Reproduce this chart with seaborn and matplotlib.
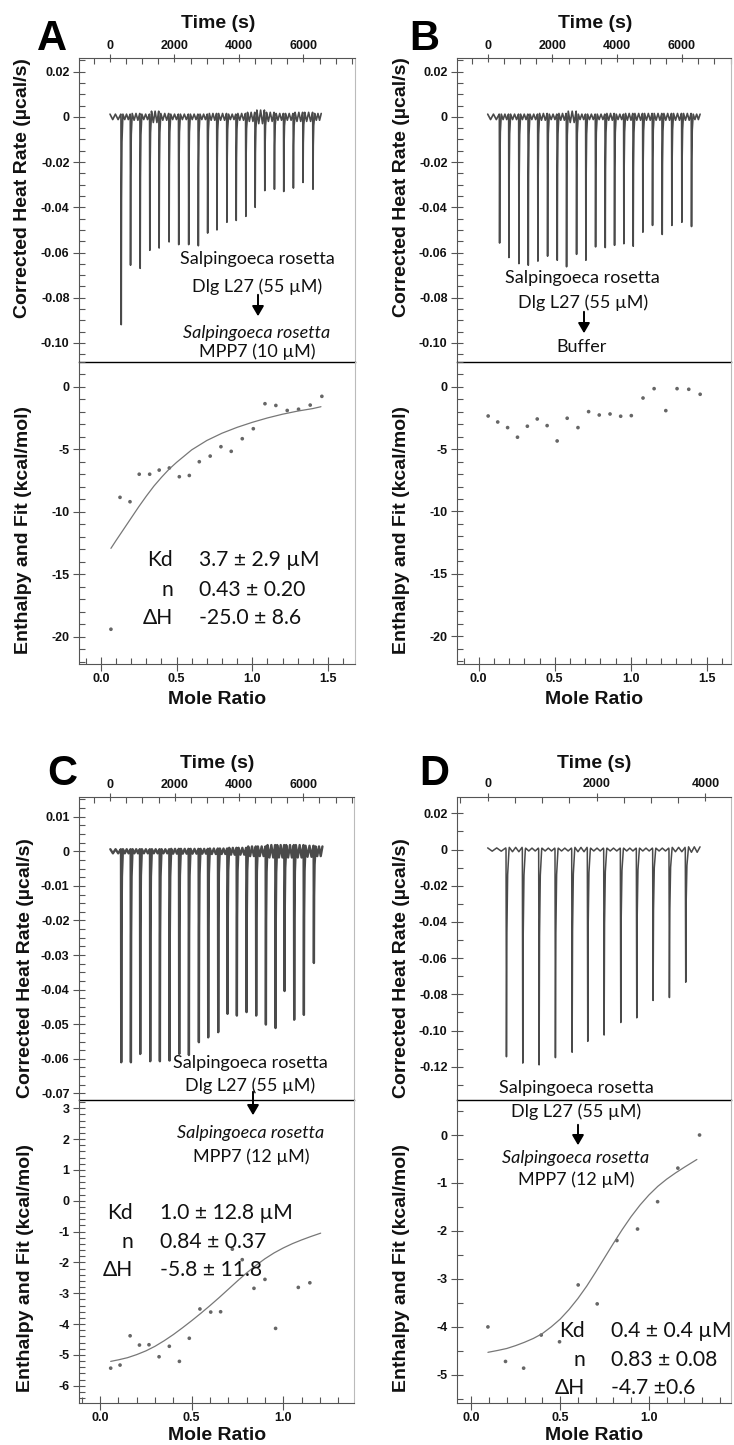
import numpy as np
import pandas as pd
import matplotlib
matplotlib.use('Agg')
import matplotlib.pyplot as plt
from matplotlib.ticker import MultipleLocator, FuncFormatter
import seaborn as sns

sns.set_style('ticks')
plt.rcParams['font.family'] = ['Liberation Sans', 'DejaVu Sans']
plt.rcParams['font.weight'] = 'bold'
plt.rcParams['axes.unicode_minus'] = False

W, H = 734, 1445

# ---------------- data ----------------
# A: Dlg L27 -> MPP7 (10 uM)
a_inj_t = [340, 629, 928, 1227, 1516, 1825, 2124, 2433, 2732, 3021, 3310,
           3619, 3907, 4206, 4495, 4794, 5093, 5382, 5681, 5980, 6289]
a_inj_dip = [-0.0919, -0.0656, -0.067, -0.059, -0.058, -0.0553, -0.0565, -0.0565,
             -0.057, -0.0514, -0.050, -0.0466, -0.0458, -0.044, -0.040, -0.0326,
             -0.032, -0.033, -0.0315, -0.029, -0.032]
a_noise = [0.0012, 0.0012, 0.0015, 0.0012, 0.0025, 0.0015, 0.0012, 0.0012, 0.0012, 0.0012, 0.0015,
           0.0015, 0.0012, 0.0015, 0.002, 0.003, 0.002, 0.0015, 0.0015, 0.002, 0.002, 0.0015]
a_t_end = 6557
a_mr = [0.066, 0.126, 0.192, 0.253, 0.322, 0.385, 0.452, 0.518, 0.584, 0.650, 0.722,
        0.793, 0.861, 0.934, 1.007, 1.084, 1.156, 1.231, 1.306, 1.383, 1.460]
a_dh = [-19.4, -8.85, -9.2, -7.0, -7.0, -6.67, -6.5, -7.2, -7.1, -6.0, -5.55,
        -4.8, -5.17, -4.16, -3.36, -1.36, -1.5, -1.9, -1.8, -1.47, -0.77]
a_fit_x = [0.066, 0.10, 0.15, 0.20, 0.25, 0.30, 0.35, 0.40, 0.45, 0.50, 0.55, 0.60,
           0.70, 0.80, 0.90, 1.00, 1.10, 1.20, 1.30, 1.40, 1.454]
a_fit_y = [-12.93, -12.3, -11.4, -10.5, -9.6, -8.75, -7.95, -7.25, -6.6, -6.05, -5.55, -5.05,
           -4.3, -3.72, -3.25, -2.85, -2.5, -2.2, -1.95, -1.75, -1.6]

# B: Dlg L27 -> buffer
b_inj_t = [360, 648, 957, 1245, 1543, 1842, 2140, 2428, 2737, 3025, 3324,
           3622, 3910, 4198, 4486, 4785, 5083, 5382, 5680, 5989, 6287]
b_inj_dip = [-0.0558, -0.0622, -0.0649, -0.0656, -0.0638, -0.0616, -0.0634, -0.0663,
             -0.0608, -0.0634, -0.0575, -0.0578, -0.0568, -0.0561, -0.0572, -0.051,
             -0.048, -0.052, -0.048, -0.0466, -0.0485]
b_noise = [0.0012, 0.0012, 0.0012, 0.0012, 0.0012, 0.0015, 0.0012, 0.0015, 0.0025, 0.0012, 0.0012,
           0.0012, 0.0015, 0.0012, 0.0015, 0.0015, 0.0015, 0.0015, 0.0015, 0.0015, 0.0015, 0.0012]
b_t_end = 6565
b_mr = [0.062, 0.125, 0.19, 0.255, 0.32, 0.385, 0.45, 0.516, 0.582, 0.653, 0.723,
        0.793, 0.864, 0.934, 1.004, 1.081, 1.154, 1.231, 1.305, 1.382, 1.457]
b_dh = [-2.35, -2.83, -3.28, -4.05, -3.17, -2.59, -3.12, -4.35, -2.53, -3.28, -2.0,
        -2.27, -2.19, -2.37, -2.32, -0.91, -0.16, -1.92, -0.16, -0.21, -0.61]

# C: Dlg L27 -> MPP7 (12 uM)
c_inj_t = [332, 632, 922, 1233, 1533, 1834, 2134, 2435, 2745, 3035, 3346,
           3636, 3926, 4227, 4527, 4828, 5128, 5408, 5708, 6009, 6320]
c_inj_dip = [-0.061, -0.061, -0.0586, -0.0607, -0.0607, -0.0605, -0.0586, -0.0589,
             -0.0552, -0.0538, -0.0523, -0.047, -0.0475, -0.0465, -0.0475, -0.0501,
             -0.0511, -0.0404, -0.0487, -0.0473, -0.0323]
c_noise = [0.0006, 0.0006, 0.0006, 0.0006, 0.0006, 0.0006, 0.0007, 0.0007, 0.0007, 0.0007, 0.0008,
           0.0008, 0.0010, 0.0010, 0.0014, 0.0014, 0.0018, 0.0018, 0.0018, 0.0018, 0.0016, 0.0014]
c_t_end = 6599
c_mr = [0.058, 0.109, 0.164, 0.215, 0.267, 0.322, 0.378, 0.433, 0.487, 0.545,
        0.604, 0.658, 0.722, 0.776, 0.84, 0.9, 0.958, 1.082, 1.145]
c_dh = [-5.43, -5.33, -4.38, -4.68, -4.67, -5.06, -4.72, -5.21, -4.46, -3.51,
        -3.61, -3.60, -1.57, -1.91, -2.84, -2.55, -4.14, -2.81, -2.66]
c_fit_x = [0.058, 0.10, 0.15, 0.20, 0.25, 0.30, 0.35, 0.40, 0.45, 0.50, 0.55, 0.60,
           0.65, 0.70, 0.75, 0.80, 0.85, 0.90, 0.95, 1.00, 1.05, 1.10, 1.15, 1.204]
c_fit_y = [-5.21, -5.16, -5.09, -4.99, -4.87, -4.72, -4.54, -4.34, -4.12, -3.89, -3.65, -3.40,
           -3.14, -2.87, -2.60, -2.34, -2.10, -1.88, -1.69, -1.53, -1.39, -1.27, -1.16, -1.05]

# D: Dlg L27 -> MPP7 (12 uM), shorter run
d_inj_t = [337, 637, 937, 1237, 1544, 1831, 2132, 2438, 2732, 3032, 3332, 3632]
d_inj_dip = [-0.1145, -0.118, -0.119, -0.115, -0.112, -0.106, -0.1025, -0.0956,
             -0.093, -0.0834, -0.0818, -0.0733]
d_noise = [0.0009, 0.0012, 0.0008, 0.0008, 0.0008, 0.0012, 0.0008, 0.0008, 0.0008,
           0.0008, 0.0008, 0.0012, 0.0015]
d_t_end = 3908
d_mr = [0.094, 0.193, 0.295, 0.394, 0.497, 0.602, 0.709, 0.82, 0.936, 1.049, 1.163, 1.285]
d_dh = [-4.0, -4.72, -4.86, -4.17, -4.31, -3.125, -3.52, -2.2, -1.96, -1.39, -0.69, 0.0]
d_fit_x = [0.094, 0.15, 0.20, 0.25, 0.30, 0.35, 0.40, 0.45, 0.50, 0.55, 0.60, 0.65,
           0.70, 0.75, 0.80, 0.85, 0.90, 0.95, 1.00, 1.05, 1.10, 1.15, 1.20, 1.27]
d_fit_y = [-4.53, -4.49, -4.45, -4.39, -4.32, -4.24, -4.14, -4.0, -3.84, -3.64, -3.41, -3.15,
           -2.86, -2.56, -2.26, -1.97, -1.70, -1.46, -1.25, -1.07, -0.92, -0.79, -0.67, -0.51]

fit_stats = {
    'A': ['3.7 ± 2.9 µM', '0.43 ± 0.20', '-25.0 ± 8.6'],
    'C': ['1.0 ± 12.8 µM', '0.84 ± 0.37', '-5.8 ± 11.8'],
    'D': ['0.4 ± 0.4 µM', '0.83 ± 0.08', '-4.7 ±0.6'],
}

LINE = '#4a4a4a'
DOT = '#666666'
SPINE = '#555555'


def build_trace(inj_t, inj_dip, noise, t_end):
    # baseline wiggle between injections, sharp dip at every injection
    t_pts, y_pts = [], []
    edges = [0] + list(inj_t) + [t_end]
    for g in range(len(edges) - 1):
        lo = edges[g] + (60 if g > 0 else 0)
        hi = edges[g + 1] - 5
        seg = np.linspace(lo, hi, 5)
        sign = np.where(np.arange(5) % 2 == 0, 1, -1)
        t_pts.extend(seg)
        y_pts.extend(noise[g] * sign)
        if g < len(inj_t):
            t0, d = inj_t[g], inj_dip[g]
            t_pts.extend([t0, t0 + 8, t0 + 16, t0 + 30, t0 + 55])
            y_pts.extend([0, d, d * 0.4, d * 0.12, 0])
    return pd.DataFrame({'t': t_pts, 'rate': y_pts})


def fmt_small(v, pos):
    return '0' if abs(v) < 1e-9 else f'{v:.2f}'


def fmt_int(v, pos):
    return f'{int(round(v))}'


def fmt_mr(v, pos):
    return f'{v:.1f}'


fig = plt.figure(figsize=(W / 100, H / 100), dpi=100)


def px_axes(left, top, right, bottom):
    return fig.add_axes([left / W, 1 - bottom / H, (right - left) / W, (bottom - top) / H])


def ftext(x, y, s, **kw):
    fig.text(x / W, 1 - y / H, s, **kw)


panels = [
    dict(box=(79, 58.3, 355, 361.7, 664), trace=build_trace(a_inj_t, a_inj_dip, a_noise, a_t_end),
         t_xlim=(-962, 7600), top_ylim=(-0.1083, 0.0259), top_major=0.02, top_minor=0.005,
         pts=(a_mr, a_dh), fit=(a_fit_x, a_fit_y), bot_ylim=(-22.18, 2.0), bot_major=5, bot_minor=1,
         mr_xlim=(-0.145, 1.679), lw=1.2),
    dict(box=(457, 58.3, 730.7, 361.7, 663.5), trace=build_trace(b_inj_t, b_inj_dip, b_noise, b_t_end),
         t_xlim=(-948, 7505), top_ylim=(-0.1083, 0.0259), top_major=0.02, top_minor=0.005,
         pts=(b_mr, b_dh), fit=None, bot_ylim=(-22.18, 2.0), bot_major=5, bot_minor=1,
         mr_xlim=(-0.143, 1.658), lw=1.2),
    dict(box=(79, 797.3, 354, 1100, 1403.3), trace=build_trace(c_inj_t, c_inj_dip, c_noise, c_t_end),
         t_xlim=(-973, 7575), top_ylim=(-0.0719, 0.0156), top_major=0.01, top_minor=0.0025,
         pts=(c_mr, c_dh), fit=(c_fit_x, c_fit_y), bot_ylim=(-6.57, 3.27), bot_major=1, bot_minor=0.2,
         mr_xlim=(-0.115, 1.386), lw=1.7),
    dict(box=(457, 796.7, 731, 1100, 1402.7), trace=build_trace(d_inj_t, d_inj_dip, d_noise, d_t_end),
         t_xlim=(-564, 4472), top_ylim=(-0.1384, 0.0292), top_major=0.02, top_minor=0.01,
         pts=(d_mr, d_dh), fit=(d_fit_x, d_fit_y), bot_ylim=(-5.58, 0.73), bot_major=1, bot_minor=0.5,
         mr_xlim=(-0.08, 1.462), lw=1.1),
]

for p in panels:
    left, top, right, mid, bottom = p['box']
    ax_t = px_axes(left, top, right, mid)
    ax_b = px_axes(left, mid, right, bottom)

    # thermogram
    sns.lineplot(data=p['trace'], x='t', y='rate', estimator=None, sort=False,
                 color=LINE, lw=p['lw'], ax=ax_t)
    ax_t.set_xlim(*p['t_xlim'])
    ax_t.set_ylim(*p['top_ylim'])
    ax_t.xaxis.tick_top()
    ax_t.xaxis.set_major_locator(MultipleLocator(2000))
    ax_t.xaxis.set_minor_locator(MultipleLocator(500))
    ax_t.xaxis.set_major_formatter(FuncFormatter(fmt_int))
    ax_t.yaxis.set_major_locator(MultipleLocator(p['top_major']))
    ax_t.yaxis.set_minor_locator(MultipleLocator(p['top_minor']))
    ax_t.yaxis.set_major_formatter(FuncFormatter(fmt_small))
    ax_t.tick_params(axis='x', which='major', direction='inout', length=6, top=True,
                     bottom=False, labeltop=True, labelbottom=False, pad=1.5)
    ax_t.tick_params(axis='x', which='minor', direction='in', length=4, top=True, bottom=False)

    # integrated heats and fit
    df_pts = pd.DataFrame({'mr': p['pts'][0], 'dh': p['pts'][1]})
    sns.scatterplot(data=df_pts, x='mr', y='dh', s=7, color=DOT, edgecolor='none', ax=ax_b)
    if p['fit'] is not None:
        df_fit = pd.DataFrame({'mr': p['fit'][0], 'dh': p['fit'][1]})
        sns.lineplot(data=df_fit, x='mr', y='dh', color='#777777', lw=0.9, ax=ax_b)
    ax_b.set_xlim(*p['mr_xlim'])
    ax_b.set_ylim(*p['bot_ylim'])
    ax_b.xaxis.set_major_locator(MultipleLocator(0.5))
    ax_b.xaxis.set_minor_locator(MultipleLocator(0.1))
    ax_b.xaxis.set_major_formatter(FuncFormatter(fmt_mr))
    ax_b.yaxis.set_major_locator(MultipleLocator(p['bot_major']))
    ax_b.yaxis.set_minor_locator(MultipleLocator(p['bot_minor']))
    ax_b.yaxis.set_major_formatter(FuncFormatter(fmt_int))
    ax_b.tick_params(axis='x', which='major', direction='inout', length=10, pad=1.5)
    ax_b.tick_params(axis='x', which='minor', direction='in', length=4.3)

    for ax in (ax_t, ax_b):
        ax.set_xlabel('')
        ax.set_ylabel('')
        ax.tick_params(axis='y', which='major', direction='inout', length=8.6, pad=2.5)
        ax.tick_params(axis='y', which='minor', direction='in', length=4.3)
        ax.tick_params(which='both', colors=SPINE, width=0.8, labelcolor='#111111', labelsize=9)
        ax.spines['right'].set_color('#bbbbbb')
        ax.spines['left'].set_color(SPINE)
        ax.set_facecolor('none')
    ax_t.spines['top'].set_color(SPINE)
    ax_t.spines['bottom'].set_color('black')
    ax_t.spines['bottom'].set_linewidth(1.0)
    ax_b.spines['top'].set_visible(False)
    ax_b.spines['bottom'].set_color(SPINE)

# ---------------- labels ----------------
lab = dict(fontsize=14, fontweight='bold', ha='center', va='center', color='#111111')
for x, y in [(218, 23), (595, 23), (217, 763), (594, 763)]:
    ftext(x, y, 'Time (s)', **lab)
for x, y in [(217, 699), (594, 699), (217, 1436), (594, 1436)]:
    ftext(x, y, 'Mole Ratio', **lab)
for x, y in [(23, 188), (402, 187), (25, 968), (402, 968)]:
    ftext(x, y, 'Corrected Heat Rate (µcal/s)', rotation=90, **lab)
for x, y in [(24, 530), (402, 530), (25, 1268), (402, 1268)]:
    ftext(x, y, 'Enthalpy and Fit (kcal/mol)', rotation=90, **lab)

for x, y, s in [(37, 50, 'A'), (409, 50, 'B'), (47, 785, 'C'), (419, 785, 'D')]:
    ftext(x, y, s, fontsize=30, fontweight='bold', ha='left', va='baseline', color='black')

ann = dict(fontsize=13, fontweight='normal', ha='center', va='center', color='#111111',
           family=['Lato', 'DejaVu Sans'])


def arrow(x, y0, y1):
    fig.add_artist(matplotlib.patches.FancyArrowPatch(
        (x / W, 1 - y0 / H), (x / W, 1 - y1 / H), transform=fig.transFigure,
        arrowstyle='-|>,head_length=6,head_width=3.5', color='black', lw=1.4))


# A
ftext(257, 259, 'Salpingoeca rosetta', **ann)
ftext(257, 287, 'Dlg L27 (55 µM)', **ann)
arrow(258, 292, 319)
ftext(257, 333, 'Salpingoeca rosetta', fontstyle='italic', **ann)
ftext(257, 352, 'MPP7 (10 µM)', **ann)
# B
ftext(582, 278, 'Salpingoeca rosetta', **ann)
ftext(583, 303, 'Dlg L27 (55 µM)', **ann)
arrow(584, 309, 336)
ftext(582, 347, 'Buffer', **ann)
# C
ftext(250, 1063, 'Salpingoeca rosetta', **ann)
ftext(250, 1086, 'Dlg L27 (55 µM)', **ann)
arrow(253, 1089, 1118)
ftext(251, 1133, 'Salpingoeca rosetta', fontstyle='italic', **ann)
ftext(251, 1157, 'MPP7 (12 µM)', **ann)
# D
ftext(576, 1088, 'Salpingoeca rosetta', **ann)
ftext(576, 1112, 'Dlg L27 (55 µM)', **ann)
arrow(578, 1122, 1148)
ftext(576, 1158, 'Salpingoeca rosetta', fontstyle='italic', **ann)
ftext(576, 1180, 'MPP7 (12 µM)', **ann)

# fit results
big = dict(fontsize=15.2, fontweight='normal', va='center', color='#111111',
           family=['Lato', 'DejaVu Sans'])
for key, xr, xv, ys in [('A', 173, 199, [560, 590, 618]),
                        ('C', 133, 160, [1213, 1242, 1270]),
                        ('D', 585, 611, [1331, 1360, 1388])]:
    for name, val, y in zip(['Kd', 'n', 'ΔH'], fit_stats[key], ys):
        ftext(xr, y, name, ha='right', **big)
        ftext(xv, y, val, ha='left', **big)

fig.savefig('out.png', dpi=100)
